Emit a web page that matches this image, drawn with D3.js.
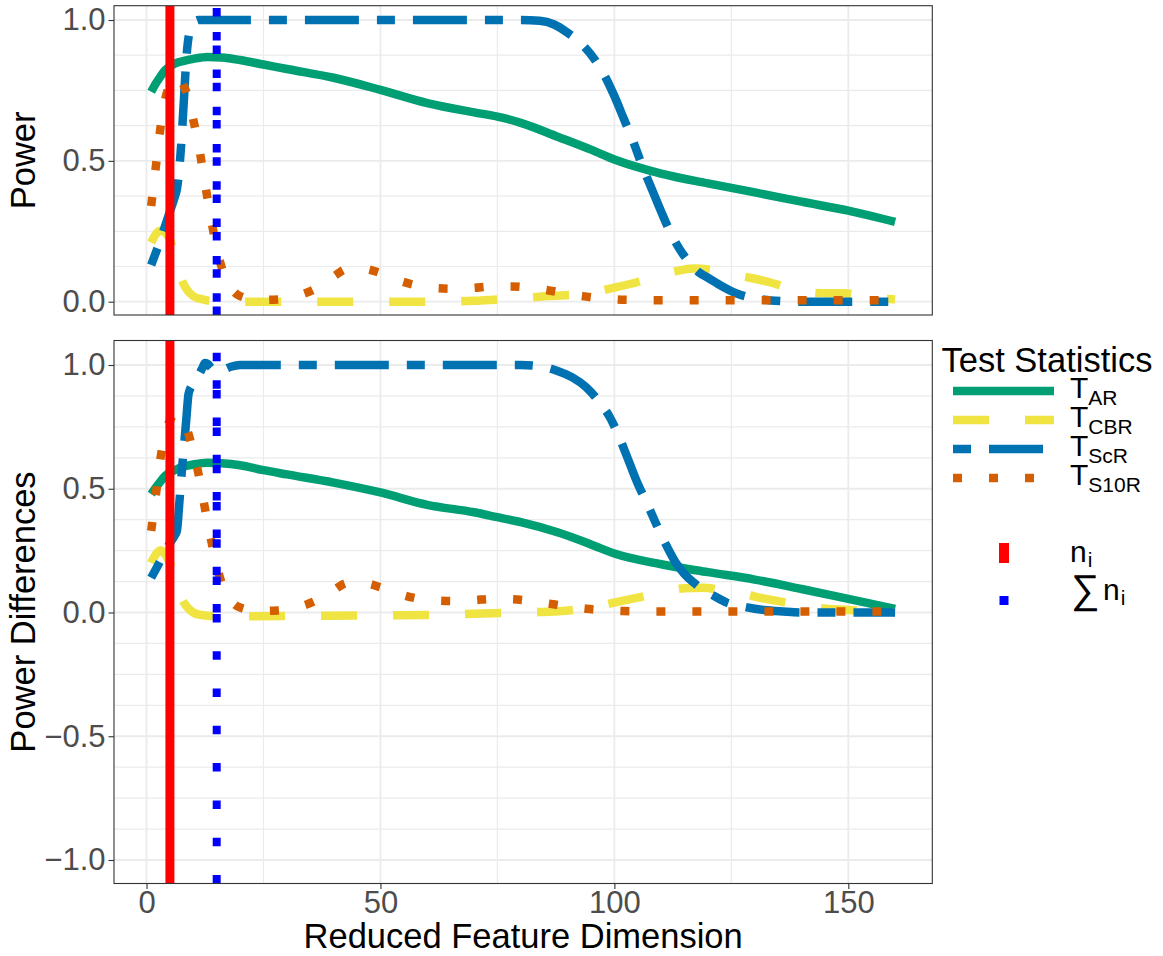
<!DOCTYPE html>
<html>
<head>
<meta charset="utf-8">
<script src="https://cdn.jsdelivr.net/npm/d3@7"></script>
<style>
  body { margin: 0; background: #ffffff; }
  svg { display: block; }
  text { font-family: "Liberation Sans", Arial, Helvetica, sans-serif; }
</style>
</head>
<body>
<svg id="chart" width="1163" height="956"></svg>
<script>
// ---- Power (upper panel) ----
const powerArX  = [1,2,3,4,6,8,10,13,16,20,25,30,40,50,60,70,75,80,88,95,100,110,120,130,140,150,160];
const powerArY  = [0.745,0.775,0.80,0.822,0.845,0.855,0.862,0.869,0.867,0.858,0.842,0.826,0.795,0.752,0.705,0.672,0.657,0.635,0.585,0.54,0.505,0.455,0.42,0.388,0.355,0.323,0.283];

const powerCbrX = [1,2,3,4,5,6,7,8,9,10,12,14,16,20,30,40,50,60,70,77,86,94,100,105,109,113,117,121,125,129,133,137,141,145,149,153,156,160];
const powerCbrY = [0.21,0.24,0.252,0.245,0.22,0.165,0.105,0.06,0.035,0.02,0.008,0.002,0,0,0,0,0,0,0.003,0.01,0.02,0.03,0.05,0.07,0.09,0.108,0.118,0.112,0.097,0.085,0.07,0.05,0.035,0.03,0.03,0.02,0.014,0.008];

const powerScrX = [1,2,3,4,5,6,6.5,7,7.5,8,8.5,9,10,11,12,20,40,60,80,84,87,90,93,96,98,100,102,104,106,108,110,112,114,116,118,120,123,126,129,132,136,140,150,160];
const powerScrY = [0.13,0.175,0.22,0.27,0.32,0.37,0.40,0.47,0.58,0.72,0.86,0.94,0.985,1.0,1.0,1.0,1.0,1.0,1.0,0.997,0.985,0.955,0.915,0.855,0.80,0.73,0.65,0.57,0.48,0.40,0.32,0.245,0.185,0.14,0.105,0.085,0.055,0.03,0.015,0.007,0.002,0,0,0];

const powerS10rX = [1,2,3,4,5,6,7,8,9,10,11,12,13,14,15,16,18,20,24,28,32,36,40,43,46,50,54,58,62,66,70,74,78,82,86,90,94,98,102,110,120,130,140,150,160];
const powerS10rY = [0.34,0.48,0.62,0.72,0.77,0.795,0.795,0.765,0.72,0.645,0.57,0.47,0.37,0.275,0.19,0.125,0.05,0.02,0.006,0.008,0.02,0.045,0.09,0.117,0.118,0.102,0.075,0.057,0.048,0.046,0.049,0.054,0.054,0.049,0.04,0.028,0.018,0.011,0.007,0.005,0.005,0.005,0.005,0.005,0.005];

// ---- Power differences (lower panel) ----
const diffArX  = [1,2,3,4,6,8,10,13,16,20,25,30,40,50,60,70,75,80,88,95,100,110,120,130,140,150,160];
const diffArY  = [0.478,0.505,0.53,0.552,0.575,0.59,0.598,0.605,0.603,0.595,0.575,0.558,0.525,0.485,0.435,0.405,0.385,0.365,0.323,0.275,0.238,0.195,0.163,0.133,0.095,0.055,0.015];

const diffCbrX = [1,2,3,4,5,6,7,8,9,10,11,13,15,20,30,40,50,60,70,80,88,95,100,105,111,115,119,123,127,131,135,143,150,155,160];
const diffCbrY = [0.20,0.235,0.25,0.235,0.20,0.14,0.08,0.04,0.015,0,-0.008,-0.013,-0.015,-0.015,-0.014,-0.013,-0.012,-0.01,-0.005,0,0.005,0.02,0.04,0.06,0.086,0.098,0.10,0.09,0.08,0.06,0.046,0.02,0.01,0.004,0];

const diffScrX = [1,2,3,4,5,6,6.5,7,7.5,8,8.5,9,10,11,12,12.5,13,14,15,16,18,20,40,60,80,84,88,91,94,97,99,101,103,105,107,109,111,113,115,117,119,121,124,128,132,136,140,150,160];
const diffScrY = [0.14,0.175,0.21,0.245,0.28,0.31,0.33,0.44,0.56,0.67,0.78,0.885,0.925,0.955,0.99,1.008,1.005,0.985,0.975,0.978,0.993,1.0,1.0,1.0,1.0,0.995,0.975,0.95,0.91,0.845,0.79,0.71,0.615,0.52,0.44,0.355,0.275,0.205,0.155,0.12,0.09,0.07,0.04,0.022,0.01,0.004,0,0,0];

const diffS10rX = [1,2,3,4,5,6,7,8,9,10,11,12,13,14,15,16,18,20,24,28,32,36,40,43,46,50,54,58,62,66,70,74,78,82,86,90,94,98,102,110,120,130,140,150,160];
const diffS10rY = [0.33,0.475,0.625,0.725,0.775,0.8,0.795,0.765,0.72,0.645,0.57,0.47,0.37,0.275,0.19,0.123,0.05,0.02,0.006,0.008,0.02,0.046,0.09,0.12,0.12,0.102,0.075,0.056,0.048,0.046,0.05,0.055,0.054,0.047,0.036,0.025,0.015,0.009,0.006,0.004,0.004,0.004,0.004,0.004,0.004];

// ---- reference dimensions (vertical lines) ----
const niValue = 5;
const sumNiValue = 15;
const sumNiSpan = [0, 1];   // extra dotted segment over the 0..1 band

// ---- scales / ticks / labels ----
const xTicks = [0, 50, 100, 150];
const xGrid = [0, 25, 50, 75, 100, 125, 150];
const powerTicks = [0, 0.5, 1.0];
const diffTicks = [-1.0, -0.5, 0, 0.5, 1.0];
const statLabels = ["AR", "CBR", "ScR", "S10R"];
const statColors = ["#009E73", "#F0E442", "#0072B2", "#D55E00"];
const statDashes = [null, "36,36", "18,18,54,18", "9,27"];

const svg = d3.select("#chart");
const LW = 8.5;
const TICK_FS = 31;
const TITLE_FS = 34.5;
const DOT_DASH = "8.5,28.8";

const x = d3.scaleLinear().domain([1 - 7.95, 160 + 7.95]).range([114, 932.3]);
const yTop = d3.scaleLinear().domain([-0.0472, 1.0508]).range([315, 5.7]);
const yBot = d3.scaleLinear().domain([-1.095, 1.099]).range([883.5, 340.5]);

const panels = [
  { id: "p1", y: yTop, grid: d3.range(0, 1.0001, 0.125), ticks: powerTicks, title: "Power",
    series: [[powerArX, powerArY], [powerCbrX, powerCbrY], [powerScrX, powerScrY], [powerS10rX, powerS10rY]],
    showX: false },
  { id: "p2", y: yBot, grid: d3.range(-1, 1.0001, 0.125), ticks: diffTicks, title: "Power Differences",
    series: [[diffArX, diffArY], [diffCbrX, diffCbrY], [diffScrX, diffScrY], [diffS10rX, diffS10rY]],
    showX: true }
];

const defs = svg.append("defs");

panels.forEach(p => {
  const [x0, x1] = x.range();
  const [yb, yt] = p.y.range();
  const g = svg.append("g");

  defs.append("clipPath").attr("id", "clip-" + p.id)
    .append("rect").attr("x", x0).attr("y", yt).attr("width", x1 - x0).attr("height", yb - yt);

  // background grid
  const grid = g.append("g");
  grid.selectAll("line.h").data(p.grid).join("line")
    .attr("x1", x0).attr("x2", x1)
    .attr("y1", d => p.y(d)).attr("y2", d => p.y(d))
    .attr("stroke", "#EBEBEB")
    .attr("stroke-width", d => (Math.abs(d * 2 - Math.round(d * 2)) < 1e-9 ? 1.8 : 1.2));
  grid.selectAll("line.v").data(xGrid).join("line")
    .attr("y1", yt).attr("y2", yb)
    .attr("x1", d => x(d)).attr("x2", d => x(d))
    .attr("stroke", "#EBEBEB")
    .attr("stroke-width", d => (d % 50 === 0 ? 1.8 : 1.2));

  // curves
  const body = g.append("g").attr("clip-path", "url(#clip-" + p.id + ")");
  const line = d3.line().x(d => x(d[0])).y(d => p.y(d[1])).curve(d3.curveMonotoneX);
  p.series.forEach((s, i) => {
    const pts = s[0].map((v, k) => [v, s[1][k]]);
    body.append("path")
      .attr("d", line(pts))
      .attr("fill", "none")
      .attr("stroke", statColors[i])
      .attr("stroke-width", LW)
      .attr("stroke-linecap", "butt")
      .attr("stroke-linejoin", "round")
      .attr("stroke-dasharray", statDashes[i]);
  });

  // reference dimensions (drawn bottom-up)
  body.append("line")
    .attr("x1", x(niValue)).attr("x2", x(niValue)).attr("y1", yb).attr("y2", yt)
    .attr("stroke", "#FF0000").attr("stroke-width", 9);
  body.append("line")
    .attr("x1", x(sumNiValue)).attr("x2", x(sumNiValue)).attr("y1", yb).attr("y2", yt)
    .attr("stroke", "#0000FF").attr("stroke-width", 8).attr("stroke-dasharray", DOT_DASH);
  body.append("line")
    .attr("x1", x(sumNiValue)).attr("x2", x(sumNiValue))
    .attr("y1", p.y(sumNiSpan[0])).attr("y2", p.y(sumNiSpan[1]))
    .attr("stroke", "#0000FF").attr("stroke-width", 8).attr("stroke-dasharray", DOT_DASH);

  // border
  g.append("rect").attr("x", x0).attr("y", yt).attr("width", x1 - x0).attr("height", yb - yt)
    .attr("fill", "none").attr("stroke", "#333333").attr("stroke-width", 1.1);

  // y axis
  const ya = g.append("g").attr("transform", `translate(${x0},0)`)
    .call(d3.axisLeft(p.y).tickValues(p.ticks).tickFormat(d3.format(".1f")).tickSize(5.5).tickPadding(3));
  ya.select(".domain").remove();
  ya.selectAll(".tick line").attr("stroke", "#333333").attr("stroke-width", 1.1);
  ya.selectAll(".tick text").attr("fill", "#4D4D4D").attr("font-size", TICK_FS)
    .attr("font-family", "Liberation Sans, Arial, sans-serif");

  g.append("text")
    .attr("transform", `translate(34.5,${(yb + yt) / 2}) rotate(-90)`)
    .attr("text-anchor", "middle").attr("font-size", TITLE_FS).attr("fill", "#000")
    .text(p.title);

  if (p.showX) {
    const xa = g.append("g").attr("transform", `translate(0,${yb})`)
      .call(d3.axisBottom(x).tickValues(xTicks).tickSize(5.5).tickPadding(2));
    xa.select(".domain").remove();
    xa.selectAll(".tick line").attr("stroke", "#333333").attr("stroke-width", 1.1);
    xa.selectAll(".tick text").attr("fill", "#4D4D4D").attr("font-size", TICK_FS)
      .attr("font-family", "Liberation Sans, Arial, sans-serif");
    g.append("text")
      .attr("x", (x0 + x1) / 2).attr("y", 947.5)
      .attr("text-anchor", "middle").attr("font-size", TITLE_FS).attr("fill", "#000")
      .text("Reduced Feature Dimension");
  }
});

// ---- legend: test statistics ----
const leg = svg.append("g");
leg.append("text").attr("x", 941.5).attr("y", 372).attr("font-size", TITLE_FS).attr("fill", "#000")
  .text("Test Statistics");
statLabels.forEach((lab, i) => {
  const cy = 391 + 29 * i;
  leg.append("line").attr("x1", 953).attr("x2", 1054).attr("y1", cy).attr("y2", cy)
    .attr("stroke", statColors[i]).attr("stroke-width", LW)
    .attr("stroke-linecap", "butt").attr("stroke-dasharray", statDashes[i]);
  const t = leg.append("text").attr("x", 1070).attr("y", 398.3 + 29 * i)
    .attr("font-size", 30).attr("fill", "#000");
  t.append("tspan").text("T");
  t.append("tspan").attr("font-size", 21).attr("dy", 6.7).text(lab);
});

// ---- legend: reference dimensions ----
leg.append("line").attr("x1", 1004).attr("x2", 1004).attr("y1", 563).attr("y2", 543)
  .attr("stroke", "#FF0000").attr("stroke-width", 10);
leg.append("line").attr("x1", 1004).attr("x2", 1004).attr("y1", 605).attr("y2", 585)
  .attr("stroke", "#0000FF").attr("stroke-width", 9).attr("stroke-dasharray", "9,29.3");
const n1 = leg.append("text").attr("x", 1070).attr("y", 561.7).attr("font-size", 30).attr("fill", "#000");
n1.append("tspan").text("n");
n1.append("tspan").attr("font-size", 21).attr("dy", 5).attr("dx", 1).text("i");
leg.append("text").attr("x", 1071).attr("y", 603).attr("font-size", 40)
  .attr("font-family", "DejaVu Sans, sans-serif").attr("fill", "#000").text("\u2211");
const n2 = leg.append("text").attr("x", 1103).attr("y", 600).attr("font-size", 30).attr("fill", "#000");
n2.append("tspan").text("n");
n2.append("tspan").attr("font-size", 21).attr("dy", 5).attr("dx", 1).text("i");
</script>
</body>
</html>
